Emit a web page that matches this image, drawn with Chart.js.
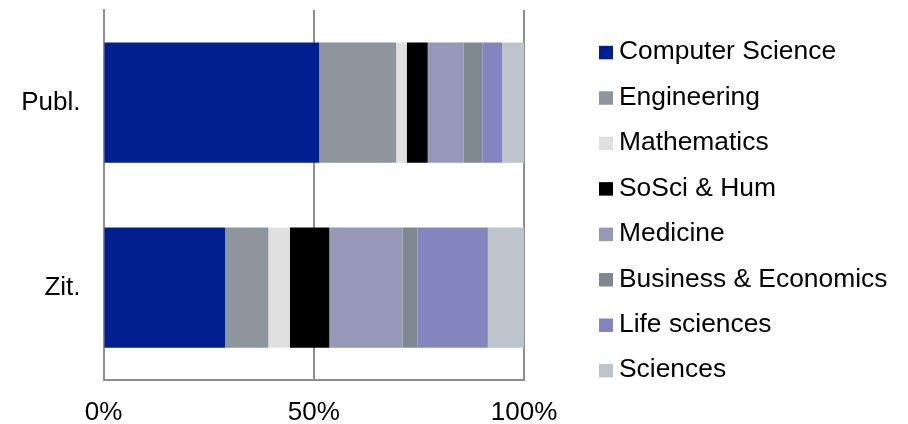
<!DOCTYPE html>
<html>
<head>
<meta charset="utf-8">
<script src="https://cdn.jsdelivr.net/npm/chart.js@4/dist/chart.umd.min.js"></script>
<style>
  html,body{margin:0;padding:0;background:#fff;}
  #wrap{width:908px;height:424px;}
</style>
</head>
<body>
<div id="wrap"><canvas id="chart" width="908" height="424"></canvas></div>
<script>
// share of publications / citations per field, in percent
const categories=["Publ.","Zit."];
const fields=["Computer Science","Engineering","Mathematics","SoSci & Hum","Medicine","Business & Economics","Life sciences","Sciences"];
const publValues=[51.3,18.3,2.5,5.0,8.5,4.5,4.7,5.2];
const zitValues=[28.9,10.3,5.1,9.4,17.4,3.6,16.7,8.6];
const xTicks=[0,50,100];

const COLORS=["#002090","#8e959d","#e0e0e0","#000000","#9598b6","#80888f","#8484be","#bec4cb"];
const FONT="'Liberation Sans', Arial, sans-serif";
const GRID="#8e8e8e";

const datasets=fields.map((f,i)=>({
  label:f,
  data:[publValues[i],zitValues[i]],
  backgroundColor:COLORS[i],
  borderWidth:0,
  barPercentage:0.65,
  categoryPercentage:1
}));

// legend on the right: small square + label, one per field
const sideLegend={
  id:"sideLegend",
  afterDraw(chart){
    const ctx=chart.ctx;
    ctx.save();
    ctx.font="26.4px "+FONT;
    ctx.textBaseline="alphabetic";
    ctx.textAlign="left";
    chart.data.datasets.forEach((ds,i)=>{
      const base=59.3+i*45.45;
      ctx.fillStyle=ds.backgroundColor;
      ctx.fillRect(599,base-13.5,14,13.5);
      ctx.fillStyle="#000";
      ctx.fillText(ds.label,619,base);
    });
    ctx.restore();
  }
};

new Chart(document.getElementById("chart").getContext("2d"),{
  type:"bar",
  data:{labels:categories,datasets},
  options:{
    indexAxis:"y",
    animation:false,
    responsive:false,
    maintainAspectRatio:false,
    layout:{padding:{top:10,right:384,left:0,bottom:0}},
    plugins:{legend:{display:false},tooltip:{enabled:false}},
    scales:{
      x:{
        stacked:true,min:0,max:100,
        afterBuildTicks(s){ s.ticks=xTicks.map(v=>({value:v})); },
        afterFit(s){ s.height=44; },
        grid:{color:GRID,lineWidth:2,drawTicks:false},
        border:{display:true,color:GRID,width:2},
        ticks:{color:"#000",font:{family:FONT,size:26},padding:17,maxRotation:0,callback:v=>v+"%"}
      },
      y:{
        stacked:true,
        // fixed axis width, and no extra room above/below for the labels
        afterFit(s){ s.width=103.5; s.paddingTop=0; s.paddingBottom=0; },
        grid:{display:false,drawTicks:false},
        border:{display:true,color:GRID,width:2},
        ticks:{color:"#000",font:{family:FONT,size:26},padding:23}
      }
    }
  },
  plugins:[sideLegend]
});
</script>
</body>
</html>
